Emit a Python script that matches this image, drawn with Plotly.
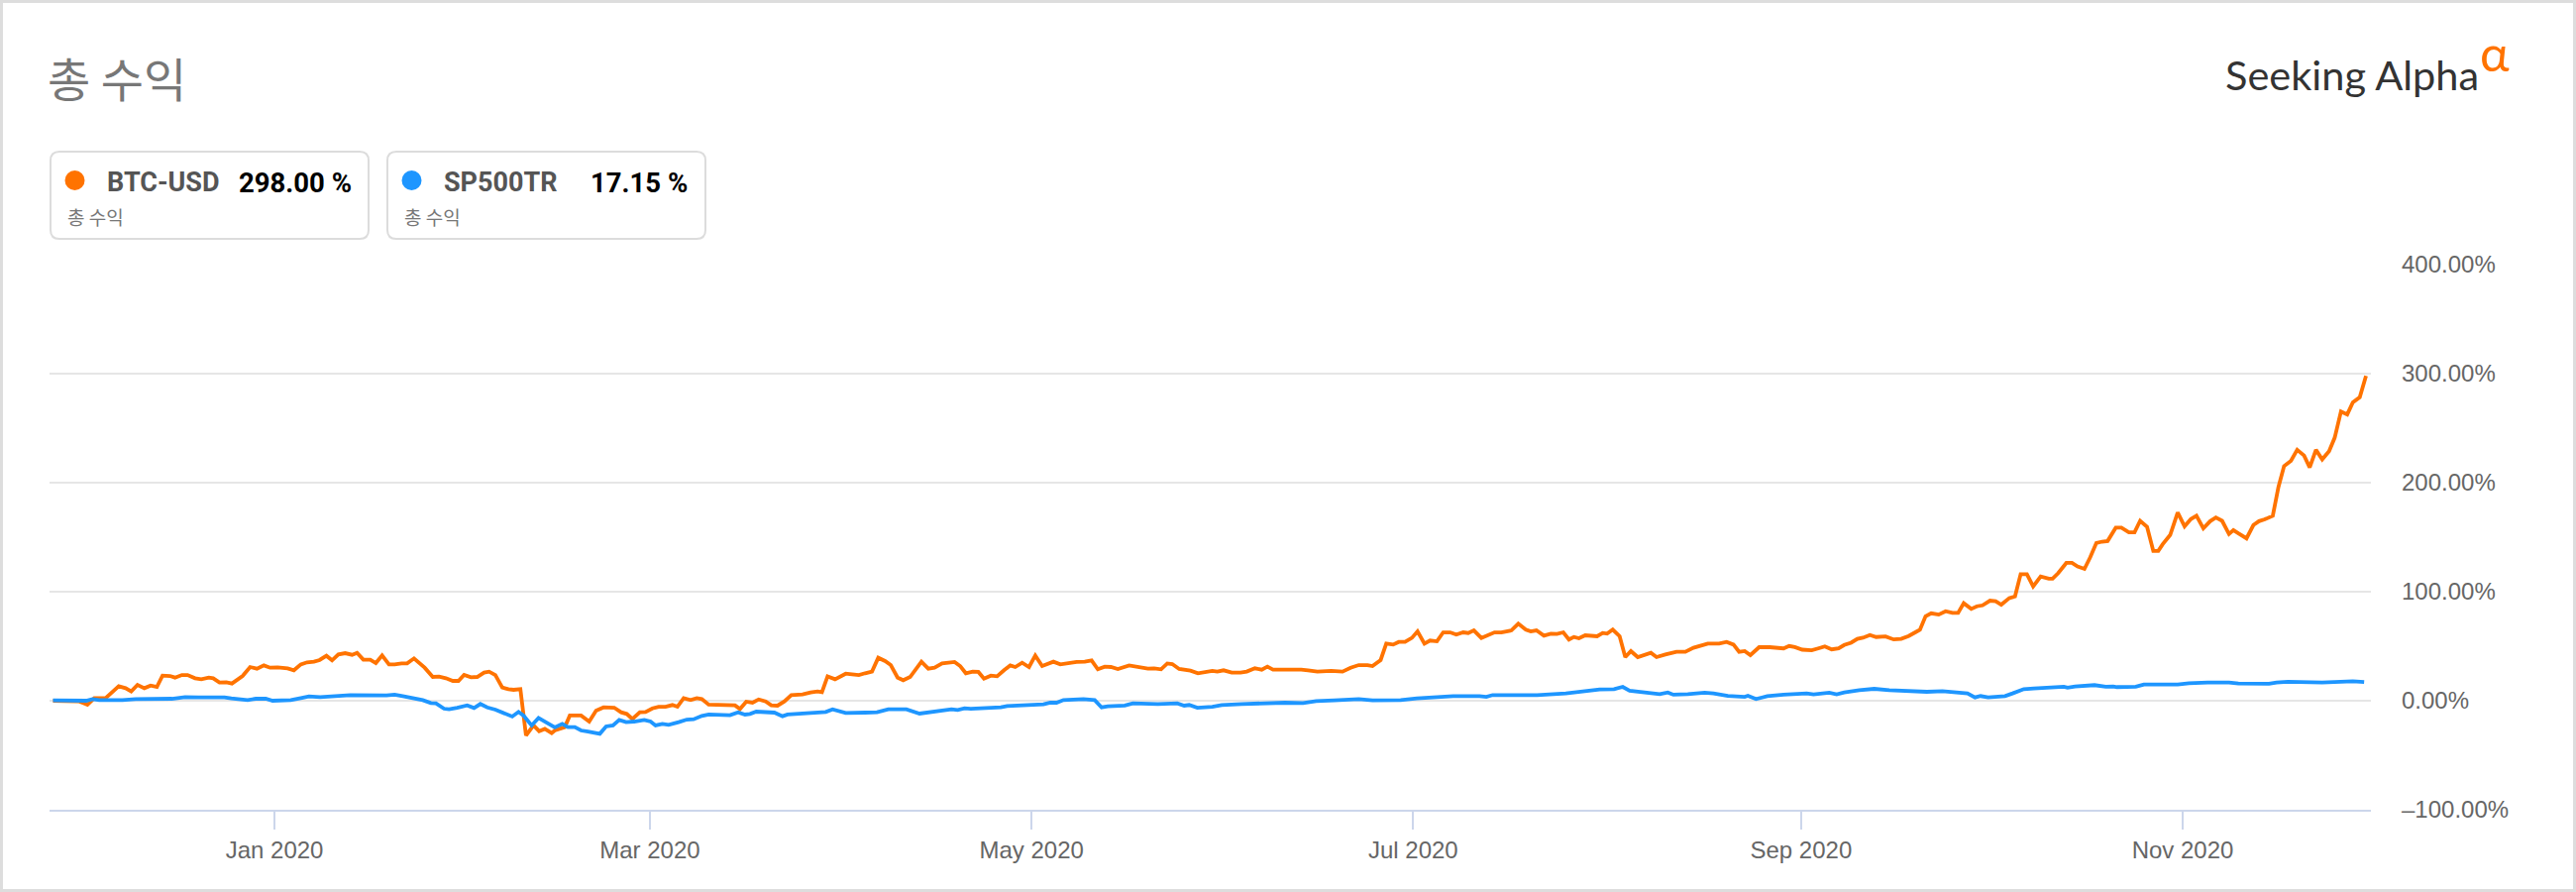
import pandas as pd
import plotly.graph_objects as go

# ---------------- data (days since 2020-01-01, total return %) ----------------
btc_days = [-35.4, -32.8, -31.2, -29.9, -28.8, -27.0, -24.9, -23.8, -22.9, -21.9, -20.8, -19.8, -18.8, -17.9,
            -16.7, -15.9, -14.8, -13.9, -12.7, -11.7, -10.5, -9.8, -8.8, -7.7, -6.8, -5.1, -3.9, -2.8, -1.7,
            -0.7, 0.5, 2.1, 3.1, 4.2, 5.2, 6.3, 7.2, 8.3, 9.2, 10.2, 11.3, 12.4, 13.2, 14.2, 15.3, 16.2, 17.2,
            18.3, 19.2, 20.3, 21.2, 22.3, 24.0, 25.3, 26.3, 27.4, 28.5, 29.4, 30.3, 31.4, 32.4, 33.5, 34.3,
            35.3, 36.4, 37.4, 38.2, 39.3, 40.2, 41.4, 42.3, 43.2, 44.3, 44.8, 45.9, 46.4, 47.2, 49.0, 50.3,
            51.4, 52.6, 54.3, 55.4, 56.3, 57.2, 58.4, 59.3, 60.4, 61.4, 62.5, 63.6, 64.4, 65.4, 66.5, 67.5,
            68.3, 69.4, 72.3, 73.6, 74.4, 75.4, 76.4, 77.4, 78.5, 79.4, 80.4, 81.5, 82.6, 84.4, 85.7, 86.8,
            87.5, 88.4, 89.6, 91.3, 92.3, 93.4, 94.4, 95.5, 96.5, 97.6, 98.5, 99.6, 100.5, 101.6, 103.4,
            104.5, 105.5, 106.7, 108.7, 109.6, 110.5, 111.6, 112.5, 113.4, 114.5, 115.5, 116.6, 117.6, 118.4,
            119.5, 120.6, 121.6, 122.7, 124.5, 125.6, 127.2, 128.2, 129.5, 130.6, 131.6, 132.7, 133.7, 134.8,
            136.6, 138.2, 139.6, 140.6, 141.7, 142.7, 143.5, 144.6, 146.4, 147.6, 148.8, 149.9, 150.7, 151.7,
            153.0, 154.4, 155.4, 156.7, 157.8, 158.7, 159.6, 161.5, 162.5, 164.1, 165.2, 166.7, 168.9, 170.7,
            172.0, 173.3, 174.7, 175.5, 176.8, 177.7, 178.8, 179.7, 180.7, 181.8, 182.7, 183.8, 184.7, 185.8,
            186.8, 187.9, 188.9, 190.0, 190.8, 191.7, 192.9, 194.0, 195.0, 196.1, 197.7, 198.8, 200.0, 200.8,
            201.7, 202.9, 204.0, 205.0, 206.0, 206.9, 207.7, 208.5, 209.5, 211.4, 212.3, 213.0, 213.9, 215.0,
            215.9, 216.8, 217.9, 220.0, 220.9, 222.3, 224.1, 225.5, 226.8, 229.1, 230.9, 232.1, 233.2, 234.1,
            235.0, 235.9, 237.3, 239.0, 241.2, 242.1, 243.0, 244.2, 245.7, 246.6, 247.8, 248.9, 250.0, 250.9,
            252.0, 253.0, 253.9, 255.0, 256.0, 257.5, 258.8, 260.0, 261.2, 262.4, 263.0, 263.9, 264.8, 266.0,
            267.1, 268.2, 269.1, 270.0, 271.2, 272.1, 273.0, 274.2, 275.1, 276.0, 277.3, 278.2, 279.1, 280.1,
            281.1, 282.3, 283.6, 284.2, 285.1, 286.4, 287.3, 288.2, 289.3, 290.2, 291.2, 292.1, 293.0, 294.3,
            295.2, 296.4, 297.3, 298.2, 299.3, 300.3, 301.1, 301.8, 303.0, 304.2, 305.3, 306.3, 307.2, 308.3,
            309.4, 310.3, 311.3, 312.4, 313.1, 313.9, 315.2, 316.3, 317.2, 318.1, 319.4, 320.3, 321.2, 322.3,
            323.3, 324.4, 325.3, 326.3, 327.3, 328.4, 329.3, 330.3, 331.3, 332.2, 333.3, 334.3]
btc_values = [0, 0, -0.6, -3.6, 2.4, 2.4, 13.3, 11.5, 8.5, 14.5, 11.5, 13.9, 12.7, 23.0,
              22.7, 21.2, 23.6, 23.6, 20.6, 19.7, 21.2, 20.6, 16.7, 17.0, 15.8, 22.7, 30.9, 29.4, 32.4,
              30.3, 30.6, 29.7, 27.9, 33.3, 35.2, 35.8, 37.3, 41.2, 37.0, 42.4, 43.6, 42.1, 43.9, 37.6, 37.6, 34.5, 41.5,
              33.3, 33.3, 34.2, 34.2, 38.8, 30.3, 21.8, 22.1, 20.6, 18.2, 18.2, 23.6, 21.5, 21.8, 25.8, 26.7,
              23.6, 12.1, 10.6, 10.0, 10.6, -31.8, -22.7, -27.9, -25.8, -29.7, -27.3, -25.2, -24.2, -13.6, -13.6, -19.1,
              -9.1, -6.1, -6.4, -10.6, -12.1, -16.7, -10.6, -10.3, -7.0, -5.5, -5.5, -3.9, -5.5, 2.4, 0.6, 2.4,
              1.5, -3.6, -3.6, -4.2, -7.6, -0.9, -1.8, 1.2, -0.6, -4.2, -4.5, -0.6, 5.2, 5.8, 7.6, 8.5,
              7.9, 22.4, 19.7, 24.8, 24.2, 23.6, 25.2, 26.7, 39.4, 36.4, 32.7, 21.2, 18.8, 21.8, 35.8,
              29.4, 30.3, 34.2, 35.5, 31.8, 25.2, 26.7, 26.4, 20.3, 23.0, 22.4, 27.9, 32.4, 30.9,
              34.8, 30.9, 41.5, 31.8, 35.8, 33.3, 34.8, 35.5, 35.8, 37.0, 28.8, 31.2, 30.9, 29.1,
              32.4, 30.9, 29.4, 29.7, 28.8, 34.2, 33.6, 29.1, 27.6, 25.2, 26.7, 27.3, 26.7, 27.9,
              25.8, 25.8, 26.7, 29.7, 28.5, 31.2, 28.5, 28.5, 28.8, 28.5, 27.9, 26.7, 27.3, 26.7,
              30.3, 32.7, 32.7, 31.8, 37.3, 52.4, 51.5, 53.9, 53.9, 57.6, 63.6, 52.4, 55.2, 54.5,
              62.7, 62.7, 60.6, 62.7, 62.1, 64.5, 57.6, 60.6, 62.7, 62.7, 64.5, 70.6, 65.2, 63.6,
              64.5, 59.7, 61.5, 61.2, 62.7, 56.1, 58.5, 57.3, 60.0, 59.1, 62.1, 61.5, 65.2, 59.1,
              40.0, 45.5, 40.0, 43.9, 40.0, 42.4, 44.8, 44.8, 48.5, 52.4, 52.4, 53.9, 51.5, 44.8,
              45.5, 41.8, 49.1, 49.1, 48.0, 50.2, 49.2, 46.8, 46.2, 47.7, 49.8, 47.1, 48.0, 51.1,
              53.2, 56.8, 57.8, 60.2, 58.4, 59.0, 56.2, 56.8, 59.3, 63.2, 65.0, 77.5, 80.2, 79.0,
              82.1, 80.5, 80.5, 89.4, 84.2, 86.6, 87.5, 91.8, 91.2, 88.1, 94.2, 95.7, 116.1, 116.1,
              104.9, 114.0, 111.9, 111.9, 117.0, 126.4, 126.4, 123.1, 120.9, 131.3, 144.7, 145.9, 146.5, 158.7,
              158.7, 154.4, 154.4, 165.0, 159.6, 137.4, 137.4, 143.5, 152.0, 172.6, 159.9, 166.6, 169.6, 158.1,
              164.7, 168.1, 165.0, 152.9, 156.5, 153.5, 148.9, 161.1, 164.7, 166.3, 169.6, 196.0, 215.2, 220.1,
              230.1, 224.9, 214.0, 230.1, 221.3, 228.9, 241.3, 265.3, 262.6, 273.6, 278.4, 298.0]

sp_days = [-35.4, -32.3, -30.1, -29.1, -28.0, -24.3, -22.2, -16.4, -14.3, -12.2, -8.0, -6.9, -4.3, -3.0,
           -1.4, -0.3, 2.6, 4.2, 5.5, 7.3, 12.1, 17.9, 19.2, 20.5, 23.7, 25.0, 25.8, 27.1, 27.9, 29.2,
           30.8, 31.9, 32.9, 34.0, 35.3, 38.0, 39.0, 39.8, 41.1, 42.2, 44.8, 46.0, 46.9, 48.0, 49.0, 50.1,
           52.0, 53.0, 54.1, 55.1, 56.2, 57.5, 59.1, 60.1, 60.9, 62.0, 63.0, 64.6, 65.9, 67.0, 68.3, 69.4,
           72.8, 74.1, 75.2, 76.0, 77.0, 79.9, 81.2, 82.0, 83.4, 84.4, 88.1, 89.2, 90.2, 91.3, 94.4, 95.5,
           96.3, 98.1, 101.0, 103.1, 105.0, 106.6, 108.2, 109.2, 110.3, 111.3, 113.4, 116.1, 117.1, 121.9,
           122.9, 124.0, 125.0, 126.1, 127.2, 129.3, 131.1, 132.2, 133.2, 135.9, 137.2, 139.3, 141.2, 144.3,
           145.4, 146.2, 147.5, 149.9, 151.4, 154.6, 157.2, 158.3, 161.5, 164.4, 166.5, 169.4, 173.3, 175.5,
           178.6, 180.0, 182.6, 185.8, 188.4, 192.6, 193.7, 194.7, 197.9, 201.0, 201.8, 206.4, 208.5, 209.5,
           211.8, 214.1, 215.5, 216.6, 218.6, 221.4, 222.7, 223.6, 225.9, 228.6, 230.0, 232.3, 235.0, 235.5,
           236.8, 238.6, 241.2, 243.0, 244.9, 246.0, 248.5, 249.7, 250.9, 253.3, 255.7, 258.1, 260.0, 262.4,
           264.1, 266.6, 268.4, 270.6, 271.8, 272.7, 273.9, 276.6, 277.8, 279.6, 281.2, 284.8, 286.0, 286.6,
           287.8, 290.9, 292.7, 293.9, 294.5, 297.5, 298.8, 304.2, 306.0, 309.0, 312.4, 313.9, 318.8, 320.0,
           321.8, 327.3, 332.2, 334.0]
sp_values = [0.3, 0, 0, 1.5, 0.6, 0.6, 1.5, 1.8, 3.3, 3.0, 3.0, 2.1, 0.6, 1.8,
             1.8, 0, 0.6, 2.4, 3.9, 3.3, 5.2, 4.8, 5.5, 4.2, 0.6, -2.1, -2.4, -7.3, -7.9, -6.4,
             -4.2, -6.7, -3.0, -6.1, -8.2, -14.5, -10.3, -13.6, -22.7, -15.8, -24.5, -21.2, -24.2, -24.2, -27.3, -28.2,
             -30.3, -23.6, -22.7, -17.6, -19.7, -19.1, -17.6, -19.1, -22.7, -21.2, -22.1, -19.7, -17.3, -17.0, -13.9, -12.7,
             -13.3, -10.6, -12.7, -12.1, -10.0, -10.9, -14.2, -12.7, -12.1, -11.2, -10.3, -7.9, -9.1, -11.2, -10.9, -10.3,
             -10.6, -7.9, -7.9, -11.8, -10.3, -9.7, -7.9, -8.5, -7.0, -7.3, -7.0, -6.1, -4.8, -4.2,
             -3.3, -1.8, -1.8, 0.6, 0.9, 1.5, 0.6, -6.1, -5.2, -4.5, -2.4, -2.7, -3.0, -2.4,
             -4.5, -3.9, -6.4, -5.5, -3.9, -3.0, -2.4, -3.0, -1.8, -2.1, -0.3, 0.3, 1.5, 0.3,
             0.6, 0.6, 2.1, 3.0, 4.2, 4.2, 3.6, 5.2, 5.2, 5.5, 5.2, 6.7, 7.9, 8.5,
             10.3, 10.6, 12.7, 9.1, 7.9, 6.1, 7.6, 5.5, 6.1, 7.3, 6.7, 4.5, 3.6, 4.5,
             1.5, 4.2, 5.5, 6.1, 6.7, 5.8, 7.3, 5.8, 7.6, 9.7, 10.9, 9.7, 9.1, 7.9,
             8.2, 8.8, 7.9, 6.7, 3.0, 4.3, 3.0, 4.3, 6.7, 10.6, 11.2, 12.2, 12.8, 11.9,
             13.1, 14.3, 12.8, 13.1, 12.5, 12.8, 14.9, 14.9, 16.1, 16.7, 16.7, 15.8, 15.5, 16.7,
             17.3, 16.7, 17.9, 17.15]

tick_dates = ["2020-01-01", "2020-03-01", "2020-05-01", "2020-07-01", "2020-09-01", "2020-11-01"]
y_ticks = [-100, 0, 100, 200, 300, 400]
y_tick_text = ["–100.00%", "0.00%", "100.00%", "200.00%", "300.00%", "400.00%"]

series_names = ["BTC-USD", "SP500TR"]
series_totals = ["298.00 %", "17.15 %"]
series_colors = ["#ff7300", "#1e96ff"]
title_text = "총 수익"
sub_text = "총 수익"

# ---------------- layout geometry (pixels) ----------------
FW, FH = 2600, 900
L, R, T, B = 50, 207, 267, 83
W, H = FW - L - R, FH - T - B


def px(xp):
    return (xp - L) / W


def py(yp):
    return (FH - B - yp) / H


base = pd.Timestamp("2020-01-01")
btc_x = base + pd.to_timedelta(btc_days, unit="D")
sp_x = base + pd.to_timedelta(sp_days, unit="D")

fig = go.Figure()
fig.add_trace(go.Scatter(x=btc_x, y=btc_values, mode="lines", name=series_names[0],
                         line=dict(color=series_colors[0], width=3.8), hoverinfo="skip"))
fig.add_trace(go.Scatter(x=sp_x, y=sp_values, mode="lines", name=series_names[1],
                         line=dict(color=series_colors[1], width=3.8), hoverinfo="skip"))

shapes = []
# outer frame
shapes.append(dict(type="rect", xref="paper", yref="paper",
                   x0=px(1.5), x1=px(FW - 1.5), y0=py(1.5), y1=py(FH - 1.5),
                   line=dict(color="#dddddd", width=3), fillcolor="rgba(0,0,0,0)", layer="below"))


def rrect(x0, y0, x1, y1, r):
    pts = [
        f"M {px(x0 + r)},{py(y0)}",
        f"L {px(x1 - r)},{py(y0)}",
        f"Q {px(x1)},{py(y0)} {px(x1)},{py(y0 + r)}",
        f"L {px(x1)},{py(y1 - r)}",
        f"Q {px(x1)},{py(y1)} {px(x1 - r)},{py(y1)}",
        f"L {px(x0 + r)},{py(y1)}",
        f"Q {px(x0)},{py(y1)} {px(x0)},{py(y1 - r)}",
        f"L {px(x0)},{py(y0 + r)}",
        f"Q {px(x0)},{py(y0)} {px(x0 + r)},{py(y0)}",
        "Z",
    ]
    return " ".join(pts)


annotations = []
box_lefts = [51, 391]
box_w = 321
for i in range(2):
    bx = box_lefts[i]
    shapes.append(dict(type="path", xref="paper", yref="paper",
                       path=rrect(bx, 153, bx + box_w, 241, 9),
                       line=dict(color="#dcdcdc", width=2), fillcolor="white"))
    cx, cy, rr = bx + 24.5, 182, 10
    shapes.append(dict(type="circle", xref="paper", yref="paper",
                       x0=px(cx - rr), x1=px(cx + rr), y0=py(cy + rr), y1=py(cy - rr),
                       line=dict(width=0), fillcolor=series_colors[i]))
    annotations.append(dict(x=px(bx + 55), y=py(184), xref="paper", yref="paper",
                            xanchor="left", yanchor="middle", showarrow=False,
                            text=f"<b>{series_names[i]}</b>",
                            font=dict(family="Roboto", size=27, color="#555555")))
    annotations.append(dict(x=px(bx + (306 if i == 0 else 305)), y=py(184), xref="paper", yref="paper",
                            xanchor="right", yanchor="middle", showarrow=False,
                            text=f"<b>{series_totals[i]}</b>",
                            font=dict(family="Roboto", size=27.5, color="#000000")))
    annotations.append(dict(x=px(bx + 15), y=py(218), xref="paper", yref="paper",
                            xanchor="left", yanchor="middle", showarrow=False,
                            text=sub_text,
                            font=dict(family="Noto Sans CJK KR", size=19, color="#777777")))

# title
annotations.append(dict(x=px(46), y=py(78), xref="paper", yref="paper",
                        xanchor="left", yanchor="middle", showarrow=False, text=title_text,
                        font=dict(family="Noto Sans CJK KR", size=47, color="#777777")))
# Seeking Alpha logo
annotations.append(dict(x=px(2504), y=py(75), xref="paper", yref="paper",
                        xanchor="right", yanchor="middle", showarrow=False, text="Seeking Alpha",
                        font=dict(family="Lato", size=41.5, color="#333333")))
annotations.append(dict(x=px(2518), y=py(53), xref="paper", yref="paper",
                        xanchor="center", yanchor="middle", showarrow=False, text="α",
                        font=dict(family="Lato", size=50, color="#ff7300")))

fig.update_layout(
    width=FW, height=FH, autosize=False,
    margin=dict(l=L, r=R, t=T, b=B, autoexpand=False),
    paper_bgcolor="white", plot_bgcolor="white",
    showlegend=False, hovermode=False,
    shapes=shapes, annotations=annotations,
    xaxis=dict(type="date", range=["2019-11-26 01:00", "2020-12-01 02:00"],
               tickvals=tick_dates, tickformat="%b %Y",
               ticks="outside", ticklen=18, tickwidth=2, tickcolor="#ccd6eb",
               showline=True, linecolor="#ccd6eb", linewidth=2, showgrid=False, zeroline=False,
               tickfont=dict(family="Liberation Sans", size=24, color="#666666")),
    yaxis=dict(range=[-100, 400], side="right", tickvals=y_ticks, ticktext=y_tick_text,
               showgrid=True, gridcolor="#e6e6e6", gridwidth=2, zeroline=False, showline=False,
               ticks="", ticklabelstandoff=30,
               tickfont=dict(family="Liberation Sans", size=24, color="#666666")),
)

fig.write_html("out.html", config={"displayModeBar": False},
               post_script="document.body.style.margin='0';document.body.style.overflow='hidden';")
